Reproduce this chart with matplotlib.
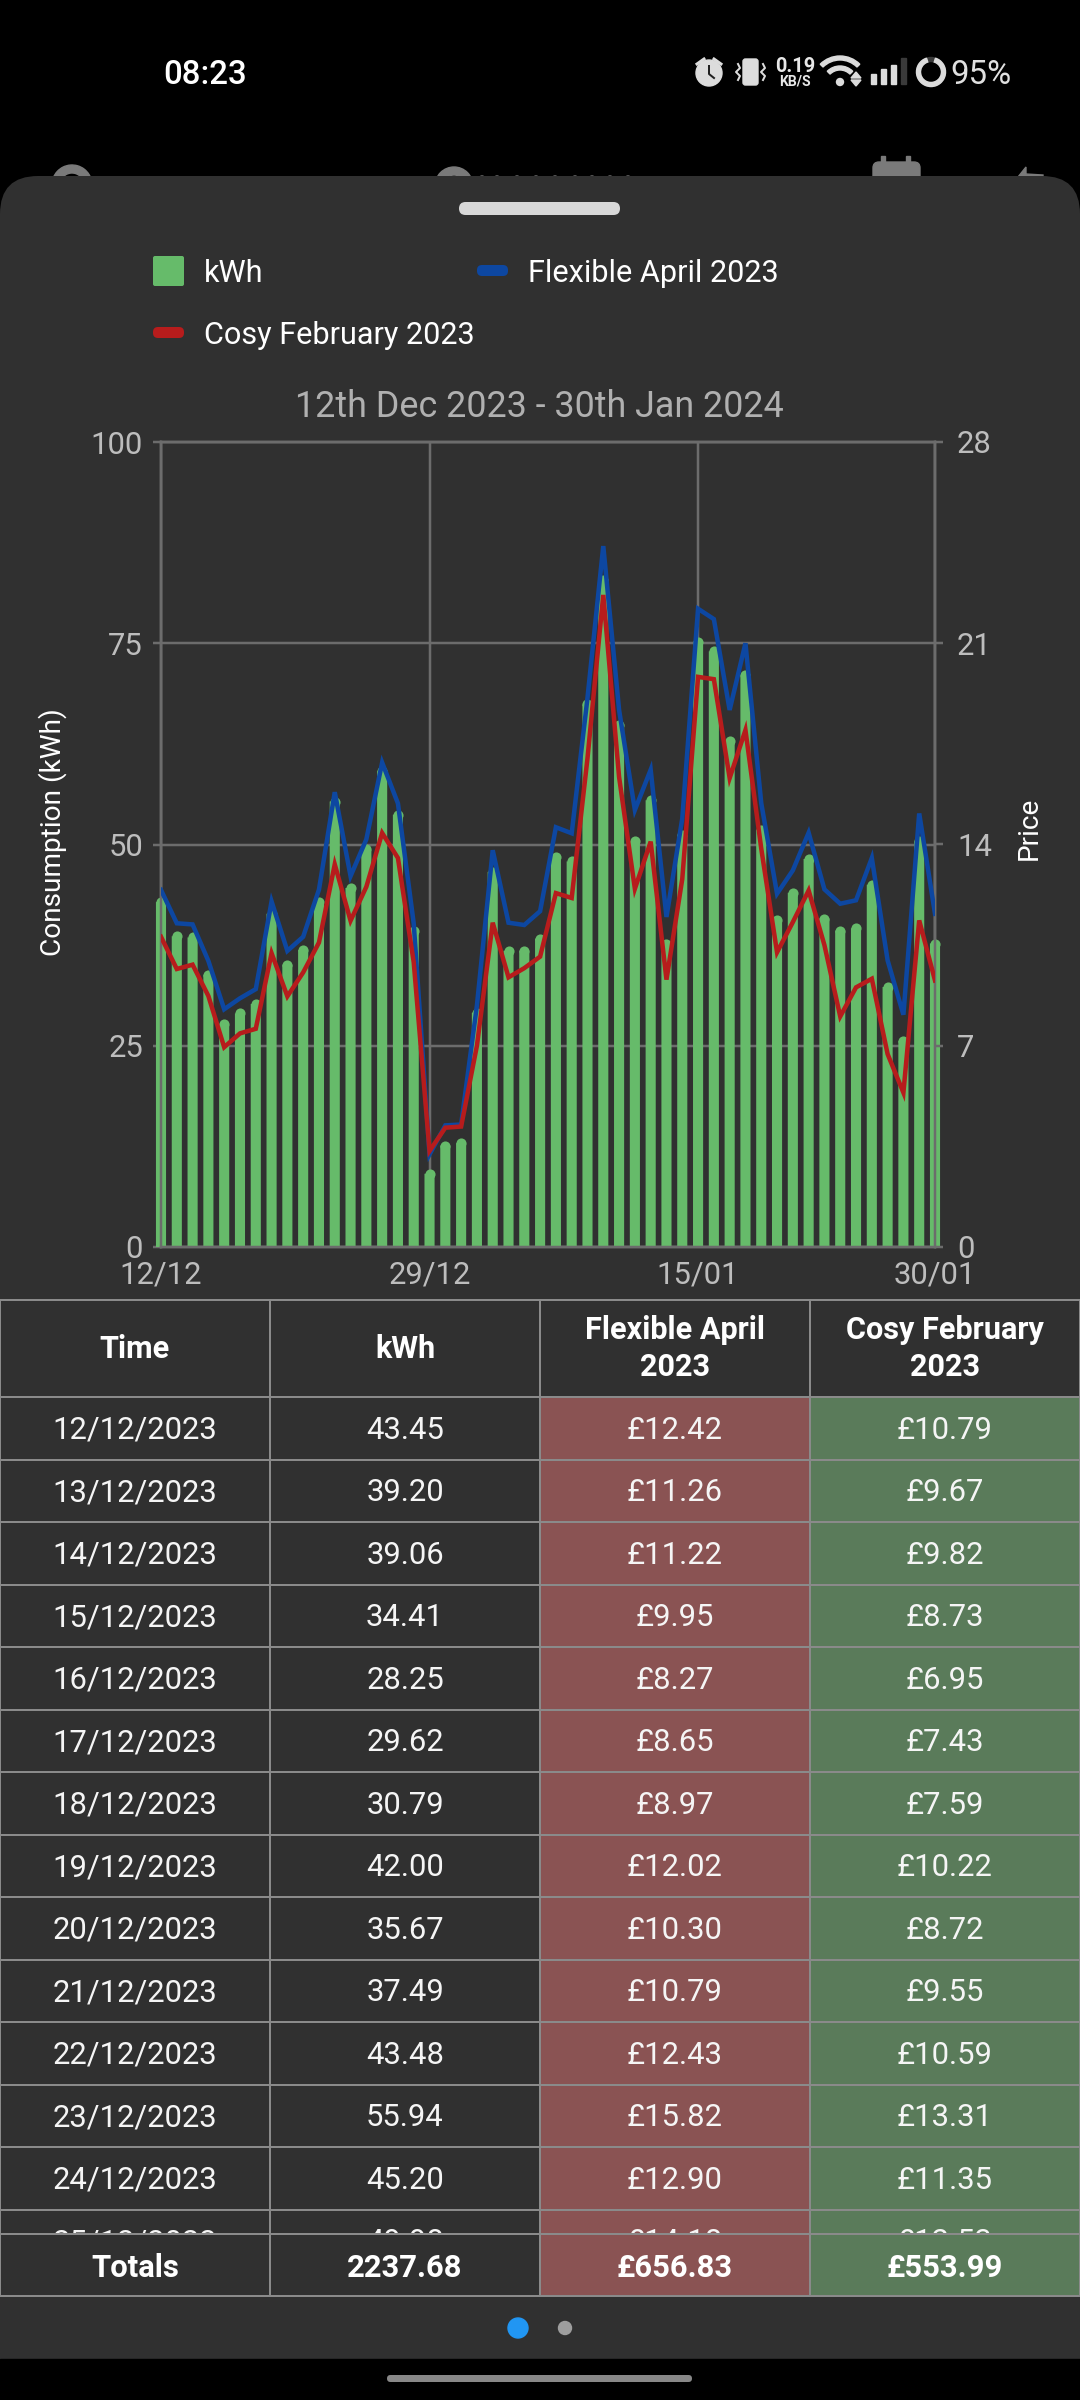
import matplotlib
matplotlib.use('Agg')
import matplotlib.pyplot as plt
from matplotlib.patches import Rectangle, FancyBboxPatch, Circle, Wedge
import numpy as np

plt.rcParams['font.family'] = ['Roboto', 'DejaVu Sans']

# daily values (first rows come from the table)
kwh = [43.45, 39.20, 39.06, 34.41, 28.25, 29.62, 30.79, 42.00, 35.67, 37.49,
       43.48, 55.94, 45.20, 49.98, 59.7, 54.3, 39.9, 9.7, 13.2, 13.5,
       29.7, 47.2, 37.4, 37.4, 38.9, 49.1, 48.5, 68.0, 83.5, 65.5,
       51.0, 56.1, 38.3, 51.8, 75.8, 74.6, 63.4, 71.7, 52.4, 41.2,
       44.6, 48.8, 41.4, 39.9, 40.2, 45.6, 32.9, 26.2, 51.0, 38.3]
flexible = [12.42, 11.26, 11.22, 9.95, 8.27, 8.65, 8.97, 12.02, 10.30, 10.79,
            12.43, 15.82, 12.90, 14.18, 16.85, 15.43, 11.25, 3.22, 4.23, 4.26,
            8.4, 13.8, 11.28, 11.2, 11.68, 14.6, 14.39, 19.1, 24.38, 18.68,
            15.2, 16.6, 11.48, 14.9, 22.2, 21.84, 18.68, 21.0, 15.44, 12.29,
            13.1, 14.41, 12.44, 11.94, 12.06, 13.53, 9.97, 8.08, 15.08, 11.59]
cosy = [10.79, 9.67, 9.82, 8.73, 6.95, 7.43, 7.59, 10.22, 8.72, 9.55,
        10.59, 13.31, 11.35, 12.53, 14.4, 13.53, 9.9, 3.34, 4.15, 4.19,
        7.0, 11.28, 9.38, 9.7, 10.1, 12.31, 12.14, 17.0, 22.68, 16.35,
        12.46, 14.1, 9.3, 12.8, 19.83, 19.75, 16.31, 17.98, 13.86, 10.25,
        11.3, 12.4, 10.5, 8.02, 9.03, 9.33, 6.71, 5.37, 11.36, 9.27]

x_tick_idx = [0, 17, 34, 49]
x_tick_labels = ['12/12', '29/12', '15/01', '30/01']
left_ticks = [0, 25, 50, 75, 100]
right_ticks = [0, 7, 14, 21, 28]

table_header = ['Time', 'kWh', 'Flexible April\n2023', 'Cosy February\n2023']
table_dates = ['12/12/2023', '13/12/2023', '14/12/2023', '15/12/2023', '16/12/2023',
               '17/12/2023', '18/12/2023', '19/12/2023', '20/12/2023', '21/12/2023',
               '22/12/2023', '23/12/2023', '24/12/2023', '25/12/2023']
table_kwh = ['43.45', '39.20', '39.06', '34.41', '28.25', '29.62', '30.79',
             '42.00', '35.67', '37.49', '43.48', '55.94', '45.20', '49.98']
table_flex = ['£12.42', '£11.26', '£11.22', '£9.95', '£8.27', '£8.65', '£8.97',
              '£12.02', '£10.30', '£10.79', '£12.43', '£15.82', '£12.90', '£14.18']
table_cosy = ['£10.79', '£9.67', '£9.82', '£8.73', '£6.95', '£7.43', '£7.59',
              '£10.22', '£8.72', '£9.55', '£10.59', '£13.31', '£11.35', '£12.53']
table_totals = ['Totals', '2237.68', '£656.83', '£553.99']

BG = '#303030'
GRID = '#6C6C6C'
GREEN = '#66BB6A'
BLUE = '#0D47A1'
RED = '#B71C1C'
TICK = '#BDBDBD'
BORDER = '#8A8A8A'
CELL_RED = '#8A5353'
CELL_GREEN = '#5A7B5A'
PX = 0.72  # one pixel in points at dpi 100
TEXT_DY = 3  # Roboto sits a little high with va='center'

fig = plt.figure(figsize=(10.8, 24), dpi=100, facecolor='black')

# pixel canvas behind everything, y runs downwards like the screenshot
bg = fig.add_axes([0, 0, 1, 1])
bg.set_xlim(0, 1080)
bg.set_ylim(2400, 0)
bg.axis('off')


def label(x, y, s, size=30.6, color='white', ha='center', weight='normal', zorder=5, **kw):
    return bg.text(x, y + TEXT_DY, s, fontsize=size * PX, color=color, ha=ha, va='center',
                   fontweight=weight, zorder=zorder, **kw)


# dimmed toolbar icons peeking out above the sheet
dim = '#7A7A7A'
bg.add_patch(Wedge((72, 185), 20, 10, 350, width=8, color=dim, zorder=1))
bg.add_patch(Wedge((454, 186), 19, 180, 360, width=8, color=dim, zorder=1))
for dot_x in [482, 497, 517, 536, 555, 575, 592, 610, 628]:
    bg.add_patch(Circle((dot_x, 179), 3, color=dim, zorder=1))
bg.add_patch(FancyBboxPatch((873, 162), 47, 30, boxstyle='round,pad=0,rounding_size=6', color=dim, zorder=1))
bg.add_patch(Rectangle((881, 156), 4, 8, color=dim, zorder=1))
bg.add_patch(Rectangle((906, 156), 4, 8, color=dim, zorder=1))
bg.fill([1018, 1026, 1026, 1043, 1043], [177, 167, 174, 175, 177], color=dim, zorder=1)

# bottom sheet
bg.add_patch(FancyBboxPatch((0, 176), 1080, 2400, boxstyle='round,pad=0,rounding_size=38',
                            facecolor=BG, edgecolor='none', zorder=2))
bg.add_patch(Rectangle((0, 2359), 1080, 41, color='black', zorder=3))
bg.add_patch(FancyBboxPatch((459, 202), 161, 13, boxstyle='round,pad=0,rounding_size=6.5',
                            facecolor='#D8D8D8', edgecolor='none', zorder=4))
bg.add_patch(FancyBboxPatch((387, 2375), 305, 7, boxstyle='round,pad=0,rounding_size=3.5',
                            facecolor='#888888', edgecolor='none', zorder=4))

# status bar
label(163, 71.5, '08:23', size=33, ha='left', weight='medium')
label(1012, 71.5, '95%', size=33, color='#E0E0E0', ha='right')
label(795, 64, '0.19', size=20, color='#E8E8E8', weight='bold')
label(795, 79, 'KB/S', size=14, color='#E8E8E8', weight='bold')
icon = '#DCDCDC'
bg.add_patch(Circle((709, 73), 13, color=icon, zorder=5))
bg.plot([709, 709, 714], [66, 74, 78], color='#202020', lw=2 * PX, zorder=6)
bg.plot([697, 704], [64, 59], color=icon, lw=3 * PX, zorder=5)
bg.plot([721, 714], [64, 59], color=icon, lw=3 * PX, zorder=5)
bg.add_patch(FancyBboxPatch((743, 59), 15, 26, boxstyle='round,pad=0,rounding_size=2.5', color=icon, zorder=5))
for side_x in [738, 763]:
    bg.plot([side_x, side_x + 2, side_x - 2, side_x + 2, side_x], [64, 68, 72, 76, 80], color=icon, lw=2 * PX, zorder=5)
for radius, width in [(28, 4), (18, 4)]:
    bg.add_patch(Wedge((840, 84), radius, 225, 315, width=width, color=icon, zorder=5))
bg.add_patch(Circle((840, 82), 3.5, color=icon, zorder=5))
bg.fill([851, 856, 861], [78, 72, 78], color=icon, zorder=5)
bg.fill([851, 856, 861], [80, 86, 80], color=icon, zorder=5)
for bar_x, top, c in [(871, 74, icon), (881, 69, icon), (891, 65, icon), (901, 58, '#3A3A3A')]:
    bg.add_patch(Rectangle((bar_x, top), 5, 84 - top, color=c, zorder=5))
bg.add_patch(Wedge((931, 72), 14.5, 0, 360, width=4, color='#3A3A3A', zorder=5))
bg.add_patch(Wedge((931, 72), 14.5, -72, 252, width=4, color=icon, zorder=5))

# legend
bg.add_patch(FancyBboxPatch((153, 256), 31, 30, boxstyle='round,pad=0,rounding_size=2', facecolor=GREEN, edgecolor='none', zorder=5))
bg.add_patch(FancyBboxPatch((477, 265), 31, 11, boxstyle='round,pad=0,rounding_size=5', facecolor=BLUE, edgecolor='none', zorder=5))
bg.add_patch(FancyBboxPatch((153, 327), 31, 11, boxstyle='round,pad=0,rounding_size=5', facecolor=RED, edgecolor='none', zorder=5))
label(204, 270, 'kWh', ha='left')
label(528, 270, 'Flexible April 2023', ha='left')
label(204, 332, 'Cosy February 2023', ha='left')
label(539, 404, '12th Dec 2023 - 30th Jan 2024', size=35.9, color='#B0B0B0')
label(53, 829, 'Consumption (kWh)', size=28, rotation=90)
label(1029, 825, 'Price', size=28, rotation=90)

# chart
ax = fig.add_axes([161 / 1080, (2400 - 1247) / 2400, 774 / 1080, 805 / 2400], zorder=2)
ax.patch.set_alpha(0)
xs = np.arange(len(kwh))
cap = 0.6  # rounded tops of the bars
bar_w = 0.64
bars = ax.bar(xs, np.array(kwh) - cap, width=bar_w, color=GREEN, clip_on=False, zorder=3)
for b in bars:
    b.set_snap(False)
tops, = ax.plot(xs, np.array(kwh) - cap, ls='none', marker='o', ms=bar_w * 15.8 * PX, mfc=GREEN, mec='none', clip_on=False, zorder=3)
tops.set_snap(False)
ax.set_xlim(0, 49)
ax.set_ylim(0, 100)
ax.set_xticks(x_tick_idx, x_tick_labels)
ax.set_yticks(left_ticks)
ax.grid(True, color=GRID, lw=2.5 * PX, zorder=0)
ax.set_axisbelow(True)
ax.tick_params(axis='y', colors=TICK, labelsize=31 * PX, length=8 * PX, width=2.5 * PX, color=GRID, pad=10 * PX)
ax.tick_params(axis='x', colors=TICK, labelsize=31 * PX, length=0, pad=13 * PX)
for spine in ax.spines.values():
    spine.set_color(GRID)
    spine.set_linewidth(2.5 * PX)

ax2 = ax.twinx()
ax2.patch.set_alpha(0)
ax2.plot(xs, flexible, color=BLUE, lw=4.5 * PX, solid_joinstyle='miter', zorder=4)
ax2.plot(xs, cosy, color=RED, lw=4.5 * PX, solid_joinstyle='miter', zorder=5)
ax2.set_ylim(0, 28)
ax2.set_yticks(right_ticks)
ax2.tick_params(axis='y', colors=TICK, labelsize=31 * PX, length=8 * PX, width=2.5 * PX, color=GRID, pad=14 * PX)
for spine in ax2.spines.values():
    spine.set_color(GRID)
    spine.set_linewidth(2.5 * PX)

# table
col_x = [0, 270, 540, 810, 1080]
head_top, head_bot = 1300, 1397
row_h = 62.5
tot_top, tot_bot = 2234, 2296
cols = [table_dates, table_kwh, table_flex, table_cosy]
fills = [BG, BG, CELL_RED, CELL_GREEN]

for c in range(4):
    cx = (col_x[c] + col_x[c + 1]) / 2
    w = col_x[c + 1] - col_x[c]
    bg.add_patch(Rectangle((col_x[c], head_top), w, head_bot - head_top, fc=BG, ec=BORDER, lw=2 * PX, zorder=5))
    label(cx, (head_top + head_bot) / 2 - 3, table_header[c], weight='bold', zorder=6, linespacing=1.3)
    for r, txt in enumerate(cols[c]):
        top = head_bot + r * row_h
        bg.add_patch(Rectangle((col_x[c], top), w, row_h, fc=fills[c], ec=BORDER, lw=2 * PX, zorder=5))
        t = label(cx, top + row_h / 2 - 1, txt, size=31, color='#F5F5F5', zorder=6)
        if top + row_h > tot_top:
            # last row is scrolled under the totals
            t.set_clip_path(Rectangle((col_x[c], top), w, tot_top - top, transform=bg.transData))
    # totals row sits on top of the scrolled rows
    bg.add_patch(Rectangle((col_x[c], tot_top), w, tot_bot - tot_top, fc=fills[c], ec=BORDER, lw=2 * PX, zorder=7))
    label(cx, (tot_top + tot_bot) / 2, table_totals[c], size=31, weight='bold', zorder=8)

# pager dots
bg.add_patch(Circle((518, 2328), 10, color='#2196F3', zorder=9))
bg.add_patch(Circle((565, 2328), 6.5, color='#9E9E9E', zorder=9))

fig.savefig('out.png', dpi=100, facecolor='black')
